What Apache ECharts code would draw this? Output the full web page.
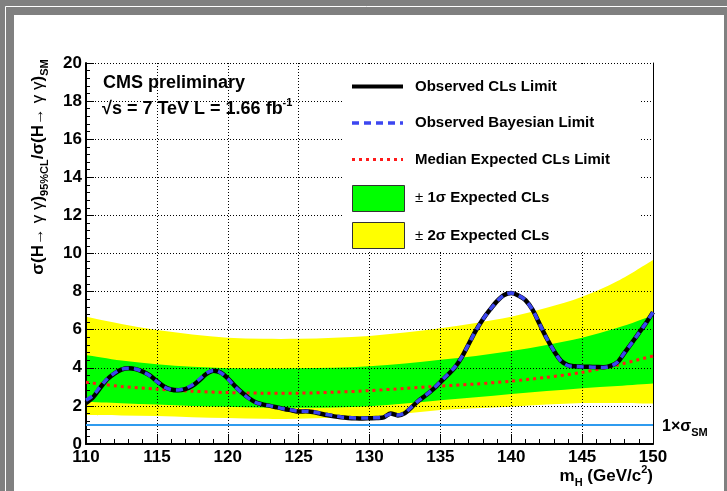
<!DOCTYPE html>
<html>
<head>
<meta charset="utf-8">
<script src="https://cdn.jsdelivr.net/npm/echarts@6/dist/echarts.min.js"></script>
<style>
  html, body { margin: 0; padding: 0; background: #ffffff; }
  #chart { width: 727px; height: 491px; }
</style>
</head>
<body>
<div id="chart"></div>
<script>
// Higgs mass hypotheses (GeV/c^2) for the observed limits
const massObs = [110,110.5,111,111.5,112,112.5,113,113.5,114,114.5,115,115.5,116,116.5,117,117.5,118,118.5,119,119.5,
  120,120.5,121,121.5,122,122.5,123,123.5,124,124.5,125,125.5,126,126.5,127,127.5,128,128.5,129,129.5,
  130,130.5,131,131.5,132,132.5,133,133.5,134,134.5,135,135.5,136,136.5,137,137.5,138,138.5,139,139.5,
  140,140.5,141,141.5,142,142.5,143,143.5,144,144.5,145,145.5,146,146.5,147,147.5,148,148.5,149,149.5,150];

// Observed 95% CL limit, CLs method
const limitObs = [2.15,2.45,2.95,3.4,3.7,3.9,3.97,3.93,3.8,3.6,3.3,3.02,2.86,2.82,2.88,3.05,3.35,3.68,3.85,3.75,
  3.45,3.05,2.7,2.4,2.18,2.07,2.0,1.92,1.84,1.77,1.7,1.72,1.68,1.6,1.52,1.45,1.4,1.37,1.35,1.34,
  1.35,1.36,1.4,1.6,1.5,1.62,1.95,2.3,2.57,2.88,3.25,3.62,4.0,4.55,5.25,5.95,6.55,7.05,7.5,7.82,
  7.92,7.8,7.55,7.05,6.3,5.55,4.9,4.38,4.14,4.08,4.06,4.05,4.04,4.03,4.1,4.3,4.8,5.3,5.82,6.34,6.92];

// Observed 95% CL limit, Bayesian method
const limitBayes = [2.3,2.55,3.0,3.42,3.72,3.92,3.98,3.94,3.8,3.58,3.28,3.0,2.86,2.84,2.92,3.1,3.4,3.72,3.86,3.74,
  3.42,3.02,2.68,2.38,2.17,2.07,2.0,1.92,1.84,1.78,1.72,1.72,1.69,1.62,1.55,1.48,1.42,1.39,1.37,1.36,
  1.37,1.38,1.43,1.58,1.52,1.64,1.97,2.3,2.58,2.9,3.27,3.64,4.02,4.56,5.25,5.95,6.55,7.05,7.5,7.82,
  7.92,7.8,7.55,7.05,6.3,5.55,4.9,4.36,4.12,4.07,4.05,4.04,4.03,4.02,4.08,4.3,4.8,5.3,5.82,6.34,6.92];

// Expected limit and its uncertainty bands
const massExp   = [110,112.5,115,117.5,120,122.5,125,127.5,130,132.5,135,137.5,140,142.5,145,147.5,150];
const expMedian = [3.24,3.02,2.88,2.77,2.70,2.67,2.67,2.72,2.80,2.92,3.04,3.15,3.30,3.50,3.76,4.15,4.62];
const exp1Lo    = [2.22,2.14,2.07,2.00,1.96,1.92,1.90,1.92,1.98,2.12,2.30,2.45,2.62,2.78,2.93,3.05,3.18];
const exp1Hi    = [4.67,4.38,4.18,4.05,3.98,3.96,3.97,4.00,4.08,4.22,4.42,4.62,4.88,5.20,5.58,6.10,6.75];
const exp2Lo    = [1.52,1.50,1.47,1.41,1.36,1.32,1.33,1.38,1.45,1.60,1.78,1.88,1.96,2.07,2.15,2.15,2.12];
const exp2Hi    = [6.68,6.30,5.98,5.75,5.58,5.52,5.52,5.58,5.67,5.85,6.07,6.35,6.68,7.15,7.73,8.55,9.66];

// Standard Model reference (1 x sigma_SM)
const massSM = [110, 150];
const smRef  = [1, 1];

// Axis ticks
const xTicks = { min: 110, max: 150, step: 5 };
const yTicks = { min: 0, max: 20, step: 2 };

const FONT = "'Liberation Sans', Arial, Helvetica, sans-serif";
const pairs = (xs, ys) => xs.map((x, i) => [x, ys[i]]);

const GREEN = '#00ff00', YELLOW = '#ffff00';

const chart = echarts.init(document.getElementById('chart'), null, { renderer: 'canvas' });

const gridDots = { color: '#000', width: 1, type: [1, 2] };

// Catmull-Rom curve through pixel points, as SVG path commands (without the initial move)
function curveThrough(pts) {
  const n = pts.length;
  let d = '';
  for (let i = 0; i < n - 1; i++) {
    const p0 = pts[Math.max(i - 1, 0)], p1 = pts[i], p2 = pts[i + 1], p3 = pts[Math.min(i + 2, n - 1)];
    const c1 = [p1[0] + (p2[0] - p0[0]) / 6, p1[1] + (p2[1] - p0[1]) / 6];
    const c2 = [p2[0] - (p3[0] - p1[0]) / 6, p2[1] - (p3[1] - p1[1]) / 6];
    d += ' C' + c1[0] + ' ' + c1[1] + ' ' + c2[0] + ' ' + c2[1] + ' ' + p2[0] + ' ' + p2[1];
  }
  return d;
}

// A filled band between two curves, drawn through the axis scales
function bandSeries(name, xs, lo, hi, color) {
  const rows = xs.map((x, i) => [x, lo[i], hi[i]]);
  return {
    name, type: 'custom', z: 1, silent: true,
    data: rows,
    encode: { x: 0, y: [1, 2] },
    renderItem(params, api) {
      if (params.dataIndex !== 0) return;
      const upper = rows.map(r => api.coord([r[0], r[2]]));
      const lower = rows.map(r => api.coord([r[0], r[1]])).reverse();
      const d = 'M' + upper[0][0] + ' ' + upper[0][1] + curveThrough(upper) +
        ' L' + lower[0][0] + ' ' + lower[0][1] + curveThrough(lower) + ' Z';
      return {
        type: 'path',
        shape: { pathData: d },
        style: { fill: color, stroke: null }
      };
    }
  };
}

const option = {
  backgroundColor: '#ffffff',
  animation: false,
  grid: { left: 86, right: 74, top: 63, bottom: 47, containLabel: false },
  xAxis: {
    type: 'value', min: xTicks.min, max: xTicks.max, interval: xTicks.step, z: 2,
    axisLine: { show: true, onZero: false, lineStyle: { color: '#000', width: 2 } },
    axisTick: { show: true, inside: true, length: 10, lineStyle: { color: '#000', width: 1 } },
    minorTick: { show: true, splitNumber: 5, length: 5, lineStyle: { color: '#000', width: 1 } },
    splitLine: { show: true, lineStyle: gridDots },
    axisLabel: { color: '#000', fontFamily: FONT, fontWeight: 'bold', fontSize: 17, margin: 5 }
  },
  yAxis: [{
    type: 'value', min: yTicks.min, max: yTicks.max, interval: yTicks.step, z: 2,
    axisLine: { show: true, onZero: false, lineStyle: { color: '#000', width: 2 } },
    axisTick: { show: true, inside: true, length: 8, lineStyle: { color: '#000', width: 1 } },
    minorTick: { show: true, splitNumber: 5, length: 4, lineStyle: { color: '#000', width: 1 } },
    splitLine: { show: true, lineStyle: gridDots },
    axisLabel: { color: '#000', fontFamily: FONT, fontWeight: 'bold', fontSize: 17, margin: 4 }
  }, {
    type: 'value', position: 'right', min: yTicks.min, max: yTicks.max, interval: yTicks.step, z: 2,
    axisLine: { show: true, onZero: false, lineStyle: { color: '#000', width: 1 } },
    axisTick: { show: false }, axisLabel: { show: false }, splitLine: { show: false }
  }],
  series: [
    bandSeries('± 2σ Expected CLs', massExp, exp2Lo, exp2Hi, YELLOW),
    bandSeries('± 1σ Expected CLs', massExp, exp1Lo, exp1Hi, GREEN),
    { name: 'SM', type: 'line', symbol: 'none', data: pairs(massSM, smRef),
      lineStyle: { color: '#2f9bef', width: 2 }, z: 3 },
    { name: 'Median Expected CLs Limit', type: 'line', smooth: 0.3, symbol: 'none',
      data: pairs(massExp, expMedian),
      lineStyle: { color: '#ff1a1a', width: 3, type: [3, 4] }, z: 4 },
    { name: 'Observed CLs Limit', type: 'line', smooth: 0.3, symbol: 'none',
      data: pairs(massObs, limitObs),
      lineStyle: { color: '#000', width: 4.5 }, z: 5 },
    { name: 'Observed Bayesian Limit', type: 'line', smooth: 0.3, symbol: 'none',
      data: pairs(massObs, limitBayes),
      lineStyle: { color: '#3c46f0', width: 3.5, type: [7, 5] }, z: 6 }
  ],
  graphic: { elements: [] }
};

const g = option.graphic.elements;

// Grey canvas frame with its thin white rule
g.push({ type: 'rect', silent: true, shape: { x: 0, y: 0, width: 727, height: 15 }, style: { fill: '#808080' } });
g.push({ type: 'rect', silent: true, shape: { x: 0, y: 0, width: 14, height: 491 }, style: { fill: '#808080' } });
g.push({ type: 'rect', silent: true, shape: { x: 724, y: 0, width: 3, height: 491 }, style: { fill: '#808080' } });
g.push({ type: 'polyline', silent: true, shape: { points: [[5.5, 491], [5.5, 6.5], [727, 6.5]] },
  style: { fill: null, stroke: '#ffffff', lineWidth: 1 } });

// Legend box
g.push({ type: 'rect', z: 10, silent: true,
  shape: { x: 342, y: 64, width: 298, height: 187 },
  style: { fill: '#ffffff' } });
const legendX = 352, legendW = 51, textX = 415;
const legendRows = [86.5, 123, 159.5, 197.5, 235.5];
g.push({ type: 'line', z: 11, shape: { x1: legendX, y1: legendRows[0], x2: legendX + legendW, y2: legendRows[0] },
  style: { stroke: '#000', lineWidth: 4 } });
g.push({ type: 'line', z: 11, shape: { x1: legendX, y1: legendRows[1], x2: legendX + legendW, y2: legendRows[1] },
  style: { stroke: '#3c46f0', lineWidth: 3.5, lineDash: [7, 5] } });
g.push({ type: 'line', z: 11, shape: { x1: legendX, y1: legendRows[2], x2: legendX + legendW, y2: legendRows[2] },
  style: { stroke: '#ff1a1a', lineWidth: 3, lineDash: [3, 4] } });
g.push({ type: 'rect', z: 11, shape: { x: legendX + 0.5, y: 185.5, width: 52, height: 26 },
  style: { fill: GREEN, stroke: '#333', lineWidth: 1 } });
g.push({ type: 'rect', z: 11, shape: { x: legendX + 0.5, y: 222.5, width: 52, height: 26 },
  style: { fill: YELLOW, stroke: '#333', lineWidth: 1 } });
const legendLabels = ['Observed CLs Limit', 'Observed Bayesian Limit', 'Median Expected CLs Limit',
  '{p|±} 1σ Expected CLs', '{p|±} 2σ Expected CLs'];
legendLabels.forEach((t, i) => {
  g.push({ type: 'text', z: 11, x: textX, y: legendRows[i],
    style: { text: t, font: 'bold 15px ' + FONT, fill: '#000', verticalAlign: 'middle', align: 'left',
      rich: { p: { font: '15px ' + FONT, fill: '#000' } } } });
});

// Experiment labels
g.push({ type: 'text', z: 12, x: 103, y: 83,
  style: { text: 'CMS preliminary', font: 'bold 18px ' + FONT, fill: '#000', verticalAlign: 'middle' } });
g.push({ type: 'text', z: 12, x: 102, y: 109,
  style: { text: '{m|√s = 7 TeV L = 1.66 fb}{u|-1}', verticalAlign: 'middle',
    rich: {
      m: { font: 'bold 18px ' + FONT, fill: '#000', lineHeight: 24, verticalAlign: 'middle' },
      u: { font: 'bold 11px ' + FONT, fill: '#000', lineHeight: 11, verticalAlign: 'top' }
    } } });

// Y axis title
g.push({ type: 'text', z: 12, x: 38, y: 167, rotation: Math.PI / 2,
  style: { text: '{b|σ(H→}{g| γ γ}{b|)}{s|95%CL}{b|/σ(H→}{g| γ γ}{b|)}{s|SM}',
    align: 'center', verticalAlign: 'middle',
    rich: {
      b: { font: 'bold 17px ' + FONT, fill: '#000', lineHeight: 24, verticalAlign: 'middle' },
      g: { font: '17px ' + FONT, fill: '#000', lineHeight: 24, verticalAlign: 'middle' },
      s: { font: 'bold 11px ' + FONT, fill: '#000', lineHeight: 11, verticalAlign: 'bottom' }
    } } });

// X axis title
g.push({ type: 'text', z: 12, x: 653, y: 476,
  style: { text: '{b|m}{s|H}{b| (GeV/c}{u|2}{b|)}', align: 'right', verticalAlign: 'middle',
    rich: {
      b: { font: 'bold 17px ' + FONT, fill: '#000', lineHeight: 24, verticalAlign: 'middle' },
      s: { font: 'bold 11px ' + FONT, fill: '#000', lineHeight: 11, verticalAlign: 'bottom' },
      u: { font: 'bold 11px ' + FONT, fill: '#000', lineHeight: 11, verticalAlign: 'top' }
    } } });

// SM reference label
g.push({ type: 'text', z: 12, x: 662, y: 427,
  style: { text: '{b|1×σ}{s|SM}', align: 'left', verticalAlign: 'middle',
    rich: {
      b: { font: 'bold 16px ' + FONT, fill: '#000', lineHeight: 22, verticalAlign: 'middle' },
      s: { font: 'bold 11px ' + FONT, fill: '#000', lineHeight: 11, verticalAlign: 'bottom' }
    } } });

chart.setOption(option);
</script>
</body>
</html>
